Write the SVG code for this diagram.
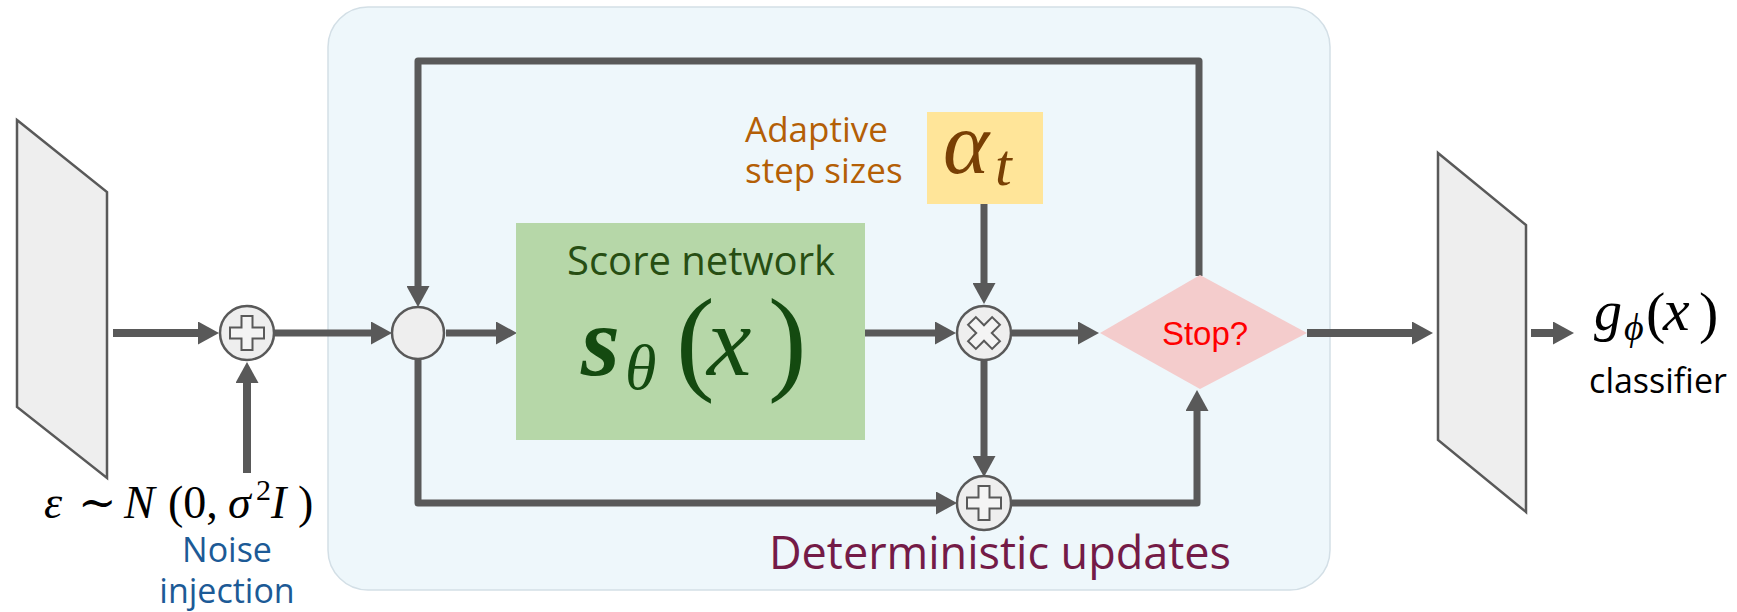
<svg xmlns="http://www.w3.org/2000/svg" width="1737" height="612" viewBox="0 0 1737 612">
<style>
.conn{fill:none;stroke:#595959;stroke-width:7;stroke-linejoin:round}
.thick{stroke-width:8}
.op{fill:#eeeeee;stroke:#595959;stroke-width:2.5}
.cross{fill:#f4f4f4;stroke:#595959;stroke-width:2}
.panel{fill:#eeeeee;stroke:#595959;stroke-width:2.5}
.sans{font-family:"Open Sans","Noto Sans","Liberation Sans",sans-serif}
.math{font-family:"Liberation Serif","DejaVu Serif",serif;font-style:italic}
.up{font-style:normal}
</style>
<defs>
<marker id="ah" markerUnits="userSpaceOnUse" markerWidth="21" markerHeight="23" refX="0" refY="11.5" orient="auto">
<path d="M0,0 L21,11.5 L0,23 Z" fill="#595959"/>
</marker>
<path id="plus" d="M-5.5,-17 H5.5 V-5.5 H17 V5.5 H5.5 V17 H-5.5 V5.5 H-17 V-5.5 H-5.5 Z"/>
</defs>
<rect id="container" x="328" y="7" width="1002" height="583" rx="40" ry="40" fill="#eef7fb" stroke="#d3dfe6" stroke-width="1.5"/>
<g id="input-image"><polygon class="panel" points="17,120 107,192 107,478 17,407"/></g>
<g id="output-image"><polygon class="panel" points="1438,153 1526,225 1526,512 1438,440"/></g>
<g id="connectors">
<path class="conn thick" d="M113,333 H198" marker-end="url(#ah)"/>
<path class="conn thick" d="M247,473 V383" marker-end="url(#ah)"/>
<path class="conn" d="M274,333 H371" marker-end="url(#ah)"/>
<path class="conn" d="M446,333 H496" marker-end="url(#ah)"/>
<path class="conn" d="M1199,276 V61 H418 V286" marker-end="url(#ah)"/>
<path class="conn" d="M865,333 H935" marker-end="url(#ah)"/>
<path class="conn" d="M984,204 V283" marker-end="url(#ah)"/>
<path class="conn" d="M1012,333 H1078" marker-end="url(#ah)"/>
<path class="conn thick" d="M1307,333 H1412" marker-end="url(#ah)"/>
<path class="conn thick" d="M1531,333 H1553" marker-end="url(#ah)"/>
<path class="conn" d="M418,359 V503 H936" marker-end="url(#ah)"/>
<path class="conn" d="M984,360 V456" marker-end="url(#ah)"/>
<path class="conn" d="M1012,503 H1197 V411" marker-end="url(#ah)"/>
</g>
<g id="noise-add">
<circle class="op" cx="247" cy="333" r="27"/>
<use href="#plus" class="cross" transform="translate(247,333)"/>
</g>
<g id="merge"><circle class="op" cx="418" cy="333" r="26"/></g>
<g id="score-network">
<rect x="516" y="223" width="349" height="217" fill="#b6d7a8"/>
<text class="sans" x="701" y="275" font-size="40" fill="#274e13" text-anchor="middle">Score network</text>
<text class="math" fill="#144a10"><tspan x="581" y="375" font-size="100" font-weight="bold">s</tspan><tspan x="625" y="389" font-size="64">θ</tspan><tspan class="up" x="676" y="379" font-size="116">(</tspan><tspan x="707" y="375" font-size="100">x</tspan><tspan class="up" x="768" y="379" font-size="116">)</tspan></text>
</g>
<g id="step-size">
<text class="sans" font-size="35" fill="#b45f06"><tspan x="745" y="142">Adaptive</tspan><tspan x="745" y="183">step sizes</tspan></text>
<rect x="927" y="112" width="116" height="92" fill="#ffe599"/>
<text class="math" fill="#783f04"><tspan x="943" y="173" font-size="88">α</tspan><tspan x="995" y="185" font-size="60">t</tspan></text>
</g>
<g id="multiply">
<circle class="op" cx="984" cy="333" r="27"/>
<use href="#plus" class="cross" transform="translate(984,333) rotate(45)"/>
</g>
<g id="update-add">
<circle class="op" cx="984" cy="503" r="27"/>
<use href="#plus" class="cross" transform="translate(984,503)"/>
</g>
<g id="stop">
<polygon points="1100,333 1200,275 1307,333 1200,389" fill="#f4cccc"/>
<text x="1205" y="345" font-family="'Liberation Sans',Arial,sans-serif" font-size="33" fill="#ff0000" text-anchor="middle">Stop?</text>
</g>
<g id="noise-label">
<text class="math" font-size="46" fill="#000"><tspan x="44" y="518">ε</tspan><tspan class="up" x="78" y="518">∼</tspan><tspan x="124" y="518">N</tspan><tspan class="up" x="168" y="518">(0,</tspan><tspan x="228" y="518">σ</tspan><tspan class="up" x="256" y="500" font-size="30">2</tspan><tspan x="271" y="518">I</tspan><tspan class="up" x="298" y="518">)</tspan></text>
<text class="sans" font-size="34" fill="#1c5a96" text-anchor="middle"><tspan x="227" y="562">Noise</tspan><tspan x="227" y="603">injection</tspan></text>
</g>
<g id="classifier-label">
<text class="math" fill="#000"><tspan x="1594" y="330" font-size="56">g</tspan><tspan x="1624" y="340" font-size="38">ϕ</tspan><tspan class="up" x="1646" y="332" font-size="58">(</tspan><tspan x="1663" y="330" font-size="60">x</tspan><tspan class="up" x="1699" y="332" font-size="58">)</tspan></text>
<text class="sans" x="1658" y="393" font-size="34" fill="#000" text-anchor="middle">classifier</text>
</g>
<g id="updates-label">
<text class="sans" x="1000" y="569" font-size="45" fill="#741b47" text-anchor="middle">Deterministic updates</text>
</g>
</svg>
